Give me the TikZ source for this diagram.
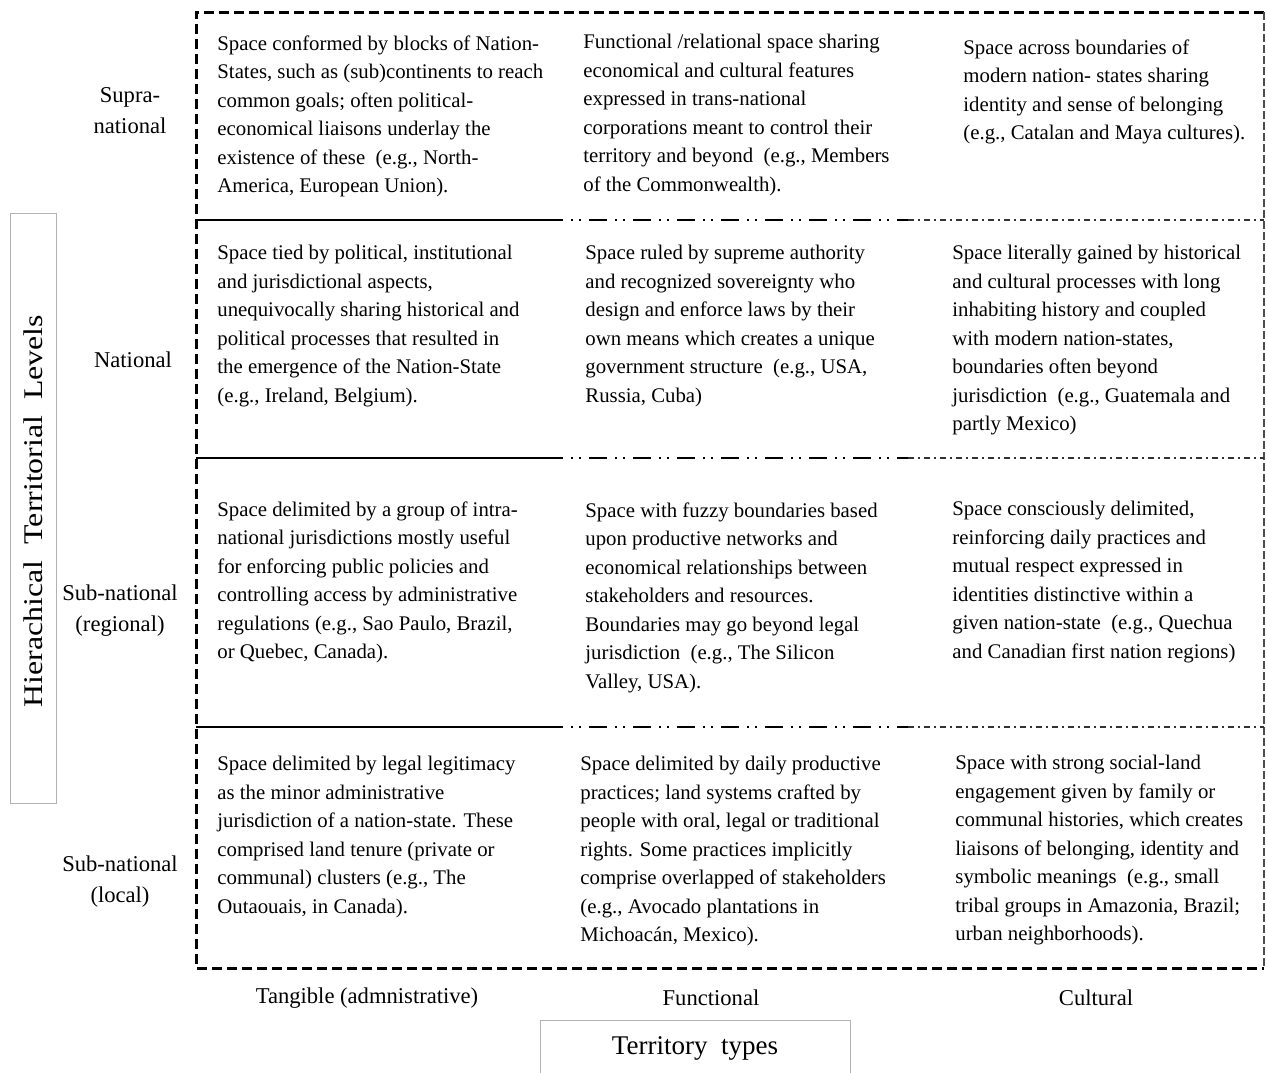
\documentclass[tikz,border=0pt]{standalone}
\usepackage{fontspec}
\setmainfont{Liberation Serif}
\usepackage{tikz}

\begin{document}
\begin{tikzpicture}[x=0.5pt,y=-0.5pt]

	\useasboundingbox (0,0) rectangle (1267,1072);

	\tikzset{cell/.style={anchor=north west,inner sep=0pt,align=left,font=\fontsize{10.4}{14.25}\selectfont}}
	\tikzset{lvl/.style={inner sep=0pt,align=center,font=\fontsize{11.3}{15.5}\selectfont}}
	\tikzset{frame/.style={line width=1.5pt,dash pattern=on 5pt off 2.5pt}}
	\tikzset{segA/.style={line width=1.2pt}}
	\tikzset{segB/.style={line width=1.2pt,dash pattern=on 9pt off 4pt on 1pt off 3pt on 1pt off 4pt}}
	\tikzset{segC/.style={line width=0.6pt,black!80,dash pattern=on 3pt off 2pt on 1pt off 2pt}}
	\tikzset{tag/.style={draw=black!30,line width=0.5pt,inner sep=0pt}}

	% outer frame
	\draw[frame] (1264,12) -- (196,12) -- (196,968) -- (1264,968);
	\draw[line width=0.7pt,black!70,dash pattern=on 4pt off 1.5pt] (1264,12) -- (1264,968);

	% row dividers
	\foreach \y in {220,458,727} {
		\draw[segA] (196,\y) -- (545,\y);
		\draw[segB] (545,\y) -- (908,\y);
		\draw[segC] (908,\y) -- (1264,\y);
	}

	% Supra-national
	\node[cell] (c11) at (217,35) {Space conformed by blocks of Nation-\\States, such as (sub)continents to reach\\common goals; often political-\\economical liaisons underlay the\\existence of these\ \ (e.g., North-\\America, European Union).};
	\node[cell] (c12) at (583,34) {Functional /relational space sharing\\economical and cultural features\\expressed in trans-national\\corporations meant to control their\\territory and beyond\ \ (e.g., Members\\of the Commonwealth).};
	\node[cell] (c13) at (963,39) {Space across boundaries of\\modern nation- states sharing\\identity and sense of belonging\\(e.g., Catalan and Maya cultures).};

	% National
	\node[cell] (c21) at (217,245) {Space tied by political, institutional\\and jurisdictional aspects,\\unequivocally sharing historical and\\political processes that resulted in\\the emergence of the Nation-State\\(e.g., Ireland, Belgium).};
	\node[cell] (c22) at (585,245) {Space ruled by supreme authority\\and recognized sovereignty who\\design and enforce laws by their\\own means which creates a unique\\government structure\ \ (e.g., USA,\\Russia, Cuba)};
	\node[cell] (c23) at (952,245) {Space literally gained by historical\\and cultural processes with long\\inhabiting history and coupled\\with modern nation-states,\\boundaries often beyond\\jurisdiction\ \ (e.g., Guatemala and\\partly Mexico)};

	% Sub-national (regional)
	\node[cell] (c31) at (217,501) {Space delimited by a group of intra-\\national jurisdictions mostly useful\\for enforcing public policies and\\controlling access by administrative\\regulations (e.g., Sao Paulo, Brazil,\\or Quebec, Canada).};
	\node[cell] (c32) at (585,502) {Space with fuzzy boundaries based\\upon productive networks and\\economical relationships between\\stakeholders and resources.\\Boundaries may go beyond legal\\jurisdiction\ \ (e.g., The Silicon\\Valley, USA).};
	\node[cell] (c33) at (952,501) {Space consciously delimited,\\reinforcing daily practices and\\mutual respect expressed in\\identities distinctive within a\\given nation-state\ \ (e.g., Quechua\\and Canadian first nation regions)};

	% Sub-national (local)
	\node[cell] (c41) at (217,756) {Space delimited by legal legitimacy\\as the minor administrative\\jurisdiction of a nation-state. These\\comprised land tenure (private or\\communal) clusters (e.g., The\\Outaouais, in Canada).};
	\node[cell] (c42) at (580,756) {Space delimited by daily productive\\practices; land systems crafted by\\people with oral, legal or traditional\\rights. Some practices implicitly\\comprise overlapped of stakeholders\\(e.g., Avocado plantations in\\Michoacán, Mexico).};
	\node[cell] (c43) at (955,755) {Space with strong social-land\\engagement given by family or\\communal histories, which creates\\liaisons of belonging, identity and\\symbolic meanings\ \ (e.g., small\\tribal groups in Amazonia, Brazil;\\urban neighborhoods).};

	% levels
	\node[lvl] (supra) at (130,111) {Supra-\\national};
	\node[lvl] (nat) at (133,360) {National};
	\node[lvl] (reg) at (120,611) {Sub-national\\(regional)};
	\node[lvl] (loc) at (120,882) {Sub-national\\(local)};
	\draw[tag] (10,213) rectangle (56,803);
	\node[rotate=90,inner sep=0pt,font=\fontsize{13.5}{15}\selectfont] (levels) at (33,511) {\scalebox{1.18}[1]{Hierachical\hspace{0.5em}Territorial\hspace{0.5em}Levels}};

	% types
	\node[lvl] (tang) at (367,998) {Tangible (admnistrative)};
	\node[lvl] (func) at (711,998) {Functional};
	\node[lvl] (cult) at (1096,998) {Cultural};
	\node[tag,minimum width=155pt,minimum height=28pt,font=\fontsize{13.5}{15}\selectfont] (types) at (695,1048) {Territory\ \ types};

\end{tikzpicture}
\end{document}
